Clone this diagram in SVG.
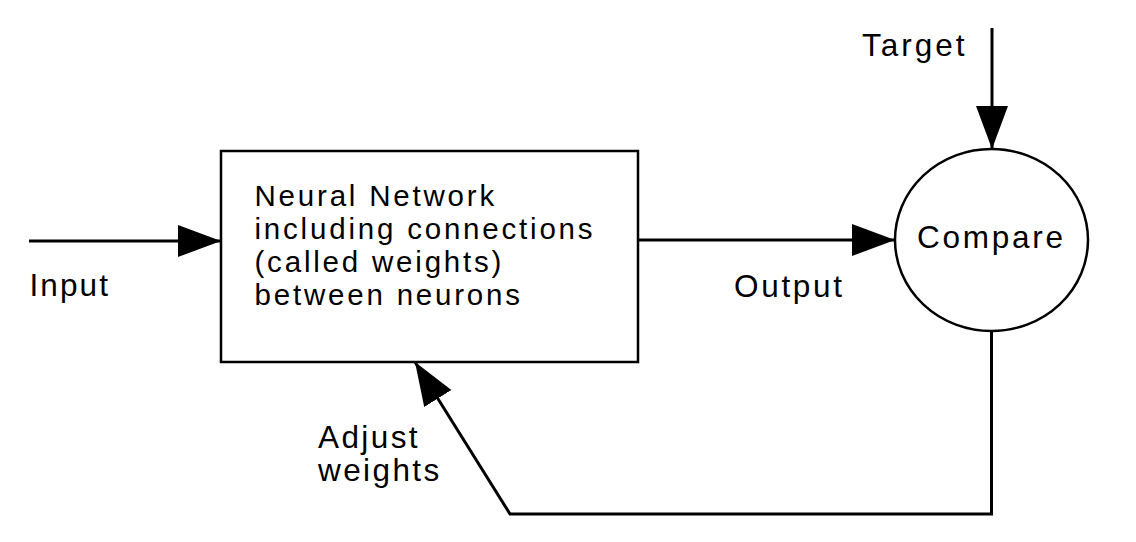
<svg xmlns="http://www.w3.org/2000/svg" width="1136" height="542" viewBox="0 0 1136 542">
  <style>
    .lbl { font-family: "Liberation Sans", Arial, sans-serif; font-size: 31.5px; fill: #000; }
    .box-lbl { font-family: "Liberation Sans", Arial, sans-serif; font-size: 29.5px; fill: #000; letter-spacing: 2.8px; }
    .shape { fill: #fff; stroke: #000; stroke-width: 2.5; }
    .conn { fill: none; stroke: #000; stroke-width: 3; stroke-linejoin: miter; }
  </style>
  <defs>
    <marker id="arrow" markerUnits="userSpaceOnUse" markerWidth="44" markerHeight="34" viewBox="0 0 44 34" refX="43" refY="17" orient="auto">
      <path d="M0,1 L43,17 L0,33 Z" fill="#000"/>
    </marker>
  </defs>
  <rect width="1136" height="542" fill="#fff"/>

  <g id="connectors">
    <line class="conn" x1="29" y1="241" x2="221" y2="241" marker-end="url(#arrow)"/>
    <line class="conn" x1="638" y1="240" x2="895" y2="240" marker-end="url(#arrow)"/>
    <line class="conn" x1="992" y1="28" x2="992" y2="149" marker-end="url(#arrow)"/>
    <polyline class="conn" points="991.5,331 991.5,514 510,514 415,362" marker-end="url(#arrow)"/>
  </g>

  <g id="node-network">
    <rect class="shape" x="221" y="151" width="417" height="211"/>
    <text class="box-lbl" x="254.5" y="206">Neural Network</text>
    <text class="box-lbl" x="254.5" y="239">including connections</text>
    <text class="box-lbl" x="254.5" y="272">(called weights)</text>
    <text class="box-lbl" x="254.5" y="305">between neurons</text>
  </g>

  <g id="node-compare">
    <ellipse class="shape" cx="991.5" cy="240" rx="96.5" ry="91"/>
    <text class="lbl" x="917" y="248" letter-spacing="2.75">Compare</text>
  </g>

  <g id="label-input">
    <text class="lbl" x="29.5" y="296" letter-spacing="2.1">Input</text>
  </g>
  <g id="label-output">
    <text class="lbl" x="734" y="296.5" letter-spacing="2.7">Output</text>
  </g>
  <g id="label-target">
    <text class="lbl" x="862" y="56" letter-spacing="3">Target</text>
  </g>
  <g id="label-adjust">
    <text class="lbl" letter-spacing="2.4"><tspan x="318" y="448">Adjust</tspan><tspan x="318" y="481">weights</tspan></text>
  </g>
</svg>
